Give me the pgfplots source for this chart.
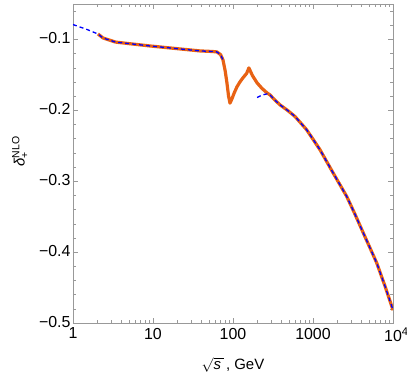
\documentclass[border=0pt]{standalone}
\usepackage{pgfplots}
\pgfplotsset{compat=1.18}
\usepackage{amsmath}
\usepackage{fontspec}
\setmainfont{Liberation Sans}
\definecolor{myorange}{RGB}{232,98,20}
\definecolor{frame}{gray}{0.6}
\begin{document}
\begin{tikzpicture}
\begin{axis}[
  scale only axis,
  width=320bp, height=319bp,
  xmode=log,
  xmin=1, xmax=10000,
  ymin=-0.5, ymax=-0.05,
  xtick={1,10,100,1000,10000},
  xticklabels={1,10,100,1000,10\rlap{\textsuperscript{4}}},
  ytick={-0.5,-0.4,-0.3,-0.2,-0.1},
  yticklabels={−0.5,−0.4,−0.3,−0.2,−0.1},
  minor ytick={-0.48,-0.46,-0.44,-0.42,-0.38,-0.36,-0.34,-0.32,-0.28,-0.26,-0.24,-0.22,-0.18,-0.16,-0.14,-0.12,-0.08,-0.06},
  tick align=inside,
  axis line style={frame},
  every tick/.style={frame},
  major tick length=5bp,
  minor tick length=3bp,
  tick label style={font=\fontsize{16}{18}\selectfont, black},
  xticklabel style={yshift=-1.5bp},
  yticklabel style={xshift=1bp, yshift=1bp},
  label style={font=\fontsize{15}{18}\selectfont},
  xlabel={$\sqrt{\text{\itshape s}\,}$\,, GeV},
  ylabel={\textit{δ}$_{\text{+}}^{\text{NLO}}$},
  xlabel style={yshift=-8bp},
  ylabel style={yshift=4bp, xshift=12bp},
  clip=true,
]
\addplot[myorange, line width=3.2bp, line join=round] coordinates {
 (2.05,-0.0923) (2.37,-0.0979) (3.35,-0.1035) (3.55,-0.1040)
 (9.17,-0.1092) (38.7,-0.1162) (55,-0.1170) (63,-0.1176) (70,-0.1215) (75,-0.1289)
 (80,-0.1450) (84,-0.1613) (88,-0.1800) (91.7,-0.1899) (96,-0.1850) (104,-0.1750) (112,-0.1669)
 (122,-0.1600) (133,-0.1542) (148,-0.1480) (158,-0.1401) (175,-0.1510) (200,-0.1613)
 (230,-0.1690) (266,-0.1754) (290,-0.1782) (330,-0.1850) (387,-0.1923) (480,-0.2000) (596,-0.2087)
 (834,-0.2275) (1000,-0.2408) (1223,-0.2556) (1778,-0.2880) (2637,-0.3214) (3300,-0.3450)
 (4253,-0.3730) (5200,-0.3950) (6255,-0.4152) (8000,-0.4490) (9638,-0.4763) (10000,-0.4820)
};
\addplot[blue, line width=1.3bp, dash pattern=on 4bp off 3bp] coordinates {
 (1,-0.0790) (1.5,-0.0860) (2.05,-0.0923) (2.37,-0.0979) (3.35,-0.1035) (3.55,-0.1040)
 (9.17,-0.1092) (38.7,-0.1162) (55,-0.1170) (63,-0.1176) (70,-0.1215) (75,-0.1289)
};
\addplot[blue, line width=1.3bp, dash pattern=on 4bp off 3bp] coordinates {
 (200,-0.1820) (230,-0.1785) (266,-0.1768) (290,-0.1782) (330,-0.1850) (387,-0.1923) (480,-0.2000) (596,-0.2087)
 (834,-0.2275) (1000,-0.2408) (1223,-0.2556) (1778,-0.2880) (2637,-0.3214) (3300,-0.3450)
 (4253,-0.3730) (5200,-0.3950) (6255,-0.4152) (8000,-0.4490) (9638,-0.4763) (10000,-0.4820)
};
\end{axis}
\pgfresetboundingbox
\path ([shift={(-73bp,-59bp)}]current axis.south west) rectangle ([shift={(14bp,4bp)}]current axis.north east);
\end{tikzpicture}
\end{document}
